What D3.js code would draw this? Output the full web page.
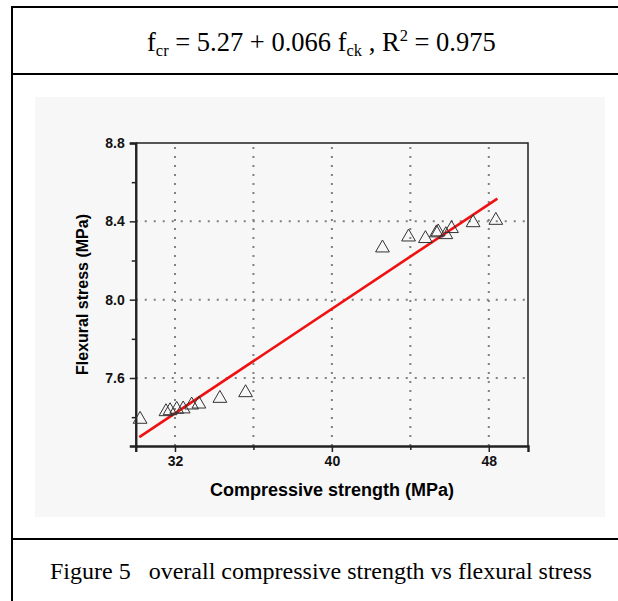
<!DOCTYPE html>
<html>
<head>
<script src="https://d3js.org/d3.v7.min.js"></script>
<style>
  body { margin: 0; background: #fff; }
</style>
</head>
<body>
<script>
// compressive strength (MPa) of each specimen
const strength = [30.22, 31.54, 31.75, 32.09, 32.42, 32.85, 33.22, 34.29, 35.60,
                  42.58, 43.91, 44.77, 45.33, 45.42, 45.81, 46.10, 47.20, 48.36];
// flexural stress (MPa)
const flexural = [7.389, 7.428, 7.433, 7.440, 7.442, 7.462, 7.467, 7.496, 7.525,
                  8.264, 8.320, 8.312, 8.341, 8.346, 8.332, 8.363, 8.393, 8.405];
// ends of the drawn regression line
const fitX = [30.18, 48.44];
const fitY = [7.298, 8.516];

const xMajor = [32, 40, 48];
const xMinor = [36, 44];
const xGrid = [32, 36, 40, 44, 48];
const yMajor = [7.6, 8.0, 8.4, 8.8];
const yMinor = [7.4, 7.8, 8.2, 8.6];
const yGrid = [7.6, 8.0, 8.4];

const W = 618, H = 601;
const svg = d3.select("body").append("svg")
  .attr("width", W).attr("height", H);

// outer table frame (right edge is cut off in the page)
const frame = svg.append("g").attr("stroke", "#000").attr("stroke-width", 2);
frame.append("line").attr("x1", 12).attr("x2", 12).attr("y1", 6).attr("y2", H);
frame.append("line").attr("x1", 11).attr("x2", W).attr("y1", 7).attr("y2", 7);
frame.append("line").attr("x1", 11).attr("x2", W).attr("y1", 74).attr("y2", 74);
frame.append("line").attr("x1", 11).attr("x2", W).attr("y1", 539).attr("y2", 539);

const serif = "'Liberation Serif', 'Times New Roman', serif";

// equation
const eq = svg.append("text")
  .attr("x", 147).attr("y", 51)
  .style("font-family", serif)
  .style("font-size", "26.5px");
eq.append("tspan").text("f");
eq.append("tspan").attr("dy", 5).style("font-size", "16.5px").text("cr");
eq.append("tspan").attr("dy", -5).text(" = 5.27 + 0.066 f");
eq.append("tspan").attr("dy", 5).style("font-size", "16.5px").text("ck");
eq.append("tspan").attr("dy", -5).text(" , R");
eq.append("tspan").attr("dy", -10).style("font-size", "16.5px").text("2");
eq.append("tspan").attr("dy", 10).text(" = 0.975");

// caption
svg.append("text")
  .attr("x", 50).attr("y", 579)
  .style("font-family", serif)
  .style("font-size", "24px")
  .attr("xml:space", "preserve")
  .text("Figure 5   overall compressive strength vs flexural stress");

// pasted chart image background
svg.append("rect")
  .attr("x", 35).attr("y", 97).attr("width", 570).attr("height", 420)
  .attr("fill", "#f8f7f7");

const m = { left: 135.75, right: 528, top: 143, bottom: 446 };
const x = d3.scaleLinear().domain([30, 50]).range([m.left, m.right]);
const y = d3.scaleLinear().domain([7.6, 8.8]).range([378, 143]);
y.domain([y.invert(m.bottom), 8.8]).range([m.bottom, m.top]);

const g = svg.append("g");

// dotted grid
g.selectAll(".vg").data(xGrid).enter().append("line")
  .attr("x1", d => x(d)).attr("x2", d => x(d))
  .attr("y1", m.top + 4).attr("y2", m.bottom)
  .attr("stroke", "#808080").attr("stroke-width", 2)
  .attr("stroke-dasharray", "2,7");
g.selectAll(".hg").data(yGrid).enter().append("line")
  .attr("x1", m.left).attr("x2", m.right)
  .attr("y1", d => y(d)).attr("y2", d => y(d))
  .attr("stroke", "#808080").attr("stroke-width", 2)
  .attr("stroke-dasharray", "2,7");

// box top and right
g.append("path")
  .attr("d", `M${m.left},${m.top}H${m.right}V${m.bottom}`)
  .attr("fill", "none").attr("stroke", "#222").attr("stroke-width", 1.5);

const sans = "'Liberation Sans', Arial, sans-serif";

// x axis
g.append("g").attr("transform", `translate(0,${m.bottom})`)
  .call(d3.axisBottom(x).tickValues(xMajor).tickSize(6).tickPadding(4).tickFormat(d3.format("d")));
g.append("g").attr("transform", `translate(0,${m.bottom})`)
  .call(d3.axisBottom(x).tickValues(xMinor).tickSize(4).tickFormat(""))
  .select(".domain").remove();

// y axis
g.append("g").attr("transform", `translate(${m.left},0)`)
  .call(d3.axisLeft(y).tickValues(yMajor).tickSize(6).tickPadding(5).tickFormat(d3.format(".1f")));
g.append("g").attr("transform", `translate(${m.left},0)`)
  .call(d3.axisLeft(y).tickValues(yMinor.filter(v => v > y.domain()[0])).tickSize(4).tickFormat(""))
  .select(".domain").remove();

g.selectAll(".domain").attr("stroke", "#222").attr("stroke-width", 2.4);
g.selectAll(".tick line").attr("stroke", "#222").attr("stroke-width", 1.5);
g.selectAll(".tick text")
  .style("font-family", sans).style("font-size", "14px")
  .style("font-weight", "bold").attr("fill", "#111");

// regression line
g.append("line")
  .attr("x1", x(fitX[0])).attr("y1", y(fitY[0]))
  .attr("x2", x(fitX[1])).attr("y2", y(fitY[1]))
  .attr("stroke", "#f01010").attr("stroke-width", 2.6);

// data triangles
const tri = d3.symbol().type(d3.symbolTriangle).size(82);
g.selectAll(".pt").data(strength).enter().append("path")
  .attr("d", tri)
  .attr("transform", (d, i) => `translate(${x(d)},${y(flexural[i])})`)
  .attr("fill", "none").attr("stroke", "#333").attr("stroke-width", 1);

// axis titles
svg.append("text")
  .attr("x", 332).attr("y", 496)
  .attr("text-anchor", "middle")
  .style("font-family", sans).style("font-size", "18px").style("font-weight", "bold")
  .text("Compressive strength (MPa)");
svg.append("text")
  .attr("transform", `translate(88,${(m.top + m.bottom) / 2}) rotate(-90)`)
  .attr("text-anchor", "middle")
  .style("font-family", sans).style("font-size", "16px").style("font-weight", "bold")
  .text("Flexural stress (MPa)");
</script>
</body>
</html>
